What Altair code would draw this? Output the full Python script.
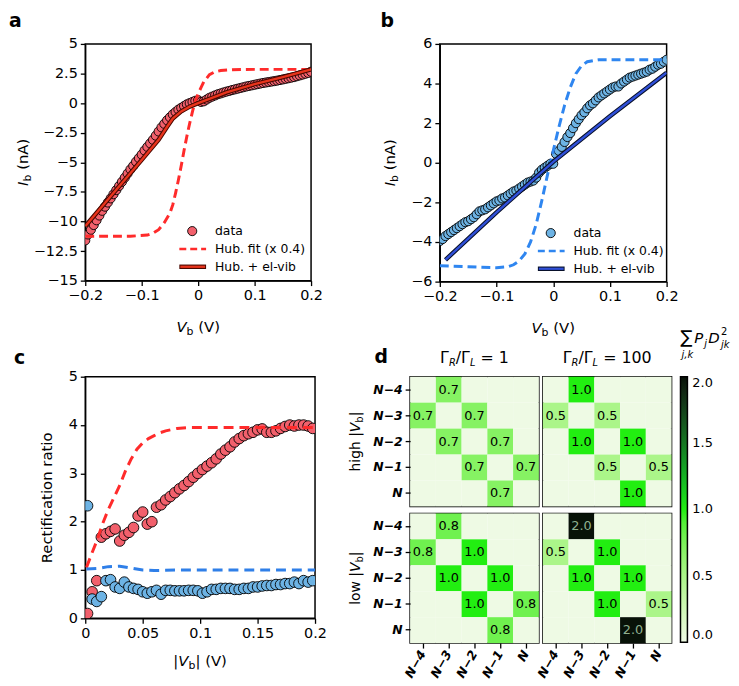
import altair as alt
import pandas as pd

FONT = "DejaVu Sans"
SP = "\u00a0"

# ---------------- data ----------------
V_SWEEP = [-0.200, -0.195, -0.190, -0.185, -0.180, -0.175, -0.170, -0.165, -0.160, -0.155,
           -0.150, -0.145, -0.140, -0.135, -0.130, -0.125, -0.120, -0.115, -0.110, -0.105,
           -0.100, -0.095, -0.090, -0.085, -0.080, -0.075, -0.070, -0.065, -0.060, -0.055,
           -0.050, -0.045, -0.040, -0.035, -0.030, -0.025, -0.020, -0.015, -0.010, -0.005,
           0.000, 0.005, 0.010, 0.015, 0.020, 0.025, 0.030, 0.035, 0.040, 0.045,
           0.050, 0.055, 0.060, 0.065, 0.070, 0.075, 0.080, 0.085, 0.090, 0.095,
           0.100, 0.105, 0.110, 0.115, 0.120, 0.125, 0.130, 0.135, 0.140, 0.145,
           0.150, 0.155, 0.160, 0.165, 0.170, 0.175, 0.180, 0.185, 0.190, 0.195, 0.200]

A_DATA = [-11.6, -11.1, -10.7, -10.3, -9.9, -9.5, -9.1, -8.75, -8.4, -8.05,
          -7.7, -7.35, -7.0, -6.65, -6.3, -5.95, -5.6, -5.3, -4.95, -4.65,
          -4.35, -4.0, -3.7, -3.4, -3.1, -2.75, -2.4, -2.05, -1.75, -1.45,
          -1.2, -0.95, -0.75, -0.55, -0.4, -0.25, -0.1, 0.0, 0.1, 0.2,
          0.25, 0.1, 0.15, 0.3, 0.45, 0.55, 0.65, 0.75, 0.82, 0.9,
          0.97, 1.03, 1.1, 1.16, 1.22, 1.28, 1.34, 1.4, 1.45, 1.5,
          1.55, 1.6, 1.65, 1.7, 1.74, 1.78, 1.82, 1.86, 1.9, 1.95,
          2.0, 2.05, 2.1, 2.15, 2.2, 2.27, 2.34, 2.41, 2.48, 2.55, 2.65]
A_FIT_X = [-0.2, -0.12, -0.09, -0.08, -0.07, -0.06, -0.05, -0.045, -0.04, -0.035, -0.03, -0.025,
           -0.02, -0.015, -0.01, -0.005, 0.0, 0.005, 0.01, 0.02, 0.03, 0.04, 0.06, 0.1, 0.2]
A_FIT_Y = [-11.25, -11.25, -11.15, -11.0, -10.7, -10.1, -9.3, -8.6, -7.6, -6.5, -5.3, -4.0,
           -2.8, -1.7, -0.7, 0.2, 0.8, 1.3, 1.8, 2.4, 2.65, 2.75, 2.82, 2.85, 2.85]
A_EV_X = [-0.2, -0.15, -0.1, -0.07, -0.055, -0.045, -0.03, -0.015, 0.0, 0.02, 0.05, 0.1, 0.15, 0.2]
A_EV_Y = [-10.4, -7.6, -4.8, -3.1, -2.0, -1.3, -0.7, -0.3, 0.0, 0.35, 0.9, 1.6, 2.2, 2.85]

B_DATA = [-3.95, -3.85, -3.7, -3.6, -3.5, -3.4, -3.3, -3.2, -3.1, -3.0,
          -2.95, -2.85, -2.75, -2.6, -2.45, -2.4, -2.35, -2.25, -2.15, -2.05,
          -1.95, -1.9, -1.8, -1.75, -1.65, -1.55, -1.45, -1.4, -1.3, -1.2,
          -1.1, -1.0, -0.95, -0.9, -0.75, -0.5, -0.35, -0.25, -0.15, -0.05,
          -0.05, 0.45, 0.6, 0.8, 1.05, 1.3, 1.5, 1.75, 2.0, 2.2,
          2.4, 2.55, 2.75, 2.9, 3.0, 3.15, 3.3, 3.4, 3.5, 3.6,
          3.7, 3.8, 3.85, 3.85, 4.0, 4.1, 4.2, 4.3, 4.35, 4.4,
          4.45, 4.5, 4.55, 4.6, 4.7, 4.75, 4.85, 4.95, 5.0, 5.1, 5.2]
B_FIT_X = [-0.2, -0.15, -0.1, -0.08, -0.07, -0.06, -0.05, -0.04, -0.03, -0.02, -0.01, 0.0,
           0.01, 0.02, 0.03, 0.04, 0.05, 0.06, 0.08, 0.1, 0.2]
B_FIT_Y = [-5.2, -5.25, -5.3, -5.25, -5.15, -4.95, -4.6, -4.0, -3.1, -1.9, -0.6, 0.6,
           1.8, 2.9, 3.8, 4.5, 4.9, 5.1, 5.2, 5.2, 5.2]
B_EV_X = [-0.19, -0.1, 0.0, 0.1, 0.2]
B_EV_Y = [-4.9, -2.5, 0.05, 2.35, 4.55]

C_X = [0.002, 0.006, 0.010, 0.014, 0.018, 0.022, 0.026, 0.030, 0.034, 0.038,
       0.042, 0.046, 0.050, 0.054, 0.058, 0.062, 0.066, 0.070, 0.074, 0.078,
       0.082, 0.086, 0.090, 0.094, 0.098, 0.102, 0.106, 0.110, 0.114, 0.118,
       0.122, 0.126, 0.130, 0.134, 0.138, 0.142, 0.146, 0.150, 0.154, 0.158,
       0.162, 0.166, 0.170, 0.174, 0.178, 0.182, 0.186, 0.190, 0.194, 0.198]
C_RED = [0.1, 0.55, 0.78, 1.68, 1.75, 1.8, 1.85, 1.6, 1.72, 1.78,
         1.88, 2.12, 2.2, 1.95, 2.0, 2.3, 2.35, 2.45, 2.52, 2.6,
         2.68, 2.75, 2.83, 2.92, 3.0, 3.08, 3.15, 3.22, 3.3, 3.4,
         3.48, 3.55, 3.65, 3.72, 3.78, 3.82, 3.85, 3.9, 3.92, 3.85,
         3.85, 3.88, 3.93, 3.97, 4.0, 3.98, 4.0, 4.0, 3.98, 3.93]
C_BLUE = [2.33, 0.4, 0.35, 0.45, 0.78, 0.8, 0.65, 0.62, 0.75, 0.65,
          0.62, 0.6, 0.55, 0.52, 0.55, 0.58, 0.5, 0.58, 0.58, 0.57,
          0.57, 0.57, 0.58, 0.58, 0.57, 0.52, 0.55, 0.6, 0.6, 0.62,
          0.62, 0.62, 0.6, 0.6, 0.62, 0.62, 0.65, 0.65, 0.67, 0.68,
          0.68, 0.7, 0.7, 0.72, 0.72, 0.75, 0.72, 0.78, 0.75, 0.78]
C_RFIT_X = [0.001, 0.005, 0.01, 0.015, 0.02, 0.025, 0.03, 0.035, 0.04, 0.045, 0.05, 0.055,
            0.06, 0.065, 0.07, 0.08, 0.09, 0.2]
C_RFIT_Y = [1.05, 1.3, 1.6, 1.95, 2.25, 2.5, 2.75, 3.05, 3.3, 3.5, 3.63, 3.72,
            3.78, 3.84, 3.88, 3.93, 3.95, 3.95]
C_BFIT_X = [0.001, 0.01, 0.02, 0.03, 0.04, 0.05, 0.06, 0.08, 0.2]
C_BFIT_Y = [1.02, 1.03, 1.07, 1.08, 1.04, 1.0, 0.99, 1.0, 1.0]

STATES = ["N−4", "N−3", "N−2", "N−1", "N"]
HIGH_G1 = [[0, 0.7, 0, 0, 0], [0.7, 0, 0.7, 0, 0], [0, 0.7, 0, 0.7, 0], [0, 0, 0.7, 0, 0.7], [0, 0, 0, 0.7, 0]]
HIGH_G100 = [[0, 1.0, 0, 0, 0], [0.5, 0, 0.5, 0, 0], [0, 1.0, 0, 1.0, 0], [0, 0, 0.5, 0, 0.5], [0, 0, 0, 1.0, 0]]
LOW_G1 = [[0, 0.8, 0, 0, 0], [0.8, 0, 1.0, 0, 0], [0, 1.0, 0, 1.0, 0], [0, 0, 1.0, 0, 0.8], [0, 0, 0, 0.8, 0]]
LOW_G100 = [[0, 2.0, 0, 0, 0], [0.5, 0, 1.0, 0, 0], [0, 1.0, 0, 1.0, 0], [0, 0, 1.0, 0, 0.5], [0, 0, 0, 2.0, 0]]

XT_AB = [-0.2, -0.1, 0, 0.1, 0.2]
YT_A = [5, 2.5, 0, -2.5, -5, -7.5, -10, -12.5, -15]
YT_B = [6, 4, 2, 0, -2, -4, -6]
XT_C = [0, 0.05, 0.1, 0.15, 0.2]
YT_C = [0, 1, 2, 3, 4, 5]
CB_TICKS = [0, 0.5, 1.0, 1.5, 2.0]

RED_PT, RED_DASH, RED_LINE, RED_EDGE = "#f2606c", "#ff2b2b", "#e8341c", "#4a0800"
BLUE_PT, BLUE_DASH, BLUE_LINE, BLUE_EDGE = "#6db3e4", "#2f86f0", "#3050d8", "#08102a"
HEAT_RANGE = ["#eefae4", "#22ee11", "#081208"]

# ---------------- helpers ----------------
CW = {' ': .318, SP: .318, '(': .390, ')': .390, '|': .337, '.': .318, ',': .318, '/': .337,
      '=': .838, '+': .838, '−': .838, '-': .361, 'a': .613, 'b': .635, 'c': .550, 'd': .635,
      'e': .615, 'f': .352, 'g': .635, 'h': .634, 'i': .278, 'j': .278, 'k': .579, 'l': .278,
      'n': .634, 'o': .612, 'r': .411, 't': .392, 'w': .818, 'x': .592, 'A': .684, 'D': .770,
      'I': .295, 'L': .557, 'N': .748, 'P': .603, 'R': .695, 'V': .684, 'Γ': .557, '∑': .70}
for d in "0123456789":
    CW[d] = .636

ANNO = alt.Chart(pd.DataFrame({"k": [0]}))


def tw(s, size):
    return sum(CW.get(ch, 0.62) for ch in s) * size


def label(t, x, y, size=15, style="normal", weight="normal", align="left", baseline="alphabetic",
          angle=0, color="black"):
    return ANNO.mark_text(text=t, align=align, baseline=baseline, fontSize=size, fontStyle=style,
                          fontWeight=weight, font=FONT, color=color, angle=angle).encode(
        x=alt.value(x), y=alt.value(y))


def rich(pieces, cx, cy, angle=0):
    """pieces: (text, size, style, baseline shift); leading spaces become explicit gaps."""
    total = sum(tw(p[0], p[1]) for p in pieces)
    pos = -total / 2
    out = []
    for t, s, st, sh in pieces:
        while t.startswith(SP):
            pos += tw(SP, s)
            t = t[1:]
        if angle == 0:
            out.append(label(t, cx + pos, cy + sh, s, st))
        else:
            out.append(label(t, cx + sh, cy - pos, s, st, angle=angle))
        pos += tw(t, s)
    return out


MINUS_EXPR = "replace(datum.label, '-', '\u2212')"


def qaxis(values, fmt, size=14.5):
    return alt.Axis(values=values, format=fmt, labelExpr=MINUS_EXPR, title=None, labelFlush=False,
                    labelOverlap=False, tickSize=5, labelFontSize=size, labelColor="black",
                    domainColor="black", domainWidth=1.3, tickColor="black", tickWidth=1.3,
                    grid=False, labelPadding=3)


def legend_block(x0, y0, pt, dash, line, edge):
    xs, xe, xt = x0, x0 + 27, x0 + 36
    return [
        ANNO.mark_point(shape="circle", filled=True, size=85, fill=pt, stroke="black",
                        strokeWidth=0.9, opacity=1).encode(x=alt.value(x0 + 13), y=alt.value(y0)),
        ANNO.mark_rule(color=dash, strokeWidth=2.5, strokeDash=[7, 4]).encode(
            x=alt.value(xs), x2=alt.value(xe), y=alt.value(y0 + 18)),
        ANNO.mark_rule(color=edge, strokeWidth=4.5).encode(
            x=alt.value(xs), x2=alt.value(xe), y=alt.value(y0 + 36)),
        ANNO.mark_rule(color=line, strokeWidth=2.3).encode(
            x=alt.value(xs + 1), x2=alt.value(xe - 1), y=alt.value(y0 + 36)),
        label("data", xt, y0, 12.5, baseline="middle"),
        label("Hub. fit (x 0.4)", xt, y0 + 18, 12.5, baseline="middle"),
        label("Hub. + el-vib", xt, y0 + 36, 12.5, baseline="middle"),
    ]


def iv_panel(data_y, fit_x, fit_y, ev_x, ev_y, ydom, yticks, yfmt, w, h, pt, dash, line, edge,
             letter, lx, ytitle_x, leg_x, leg_y):
    xe = alt.X("x:Q", scale=alt.Scale(domain=[-0.2, 0.2], nice=False), axis=qaxis(XT_AB, ".1~f"))
    ye = alt.Y("y:Q", scale=alt.Scale(domain=ydom, nice=False, zero=False), axis=qaxis(yticks, yfmt))
    pts = alt.Chart(pd.DataFrame({"x": V_SWEEP, "y": data_y})).mark_point(
        shape="circle", filled=True, size=85, fill=pt, stroke="black", strokeWidth=0.9,
        opacity=1, clip=True).encode(x=xe, y=ye)
    fdf = pd.DataFrame({"x": fit_x, "y": fit_y})
    edf = pd.DataFrame({"x": ev_x, "y": ev_y})
    fit = alt.Chart(fdf).mark_line(color=dash, strokeWidth=3, strokeDash=[9, 5], clip=True).encode(x=xe, y=ye)
    ev0 = alt.Chart(edf).mark_line(color=edge, strokeWidth=4.5, clip=True).encode(x=xe, y=ye)
    ev1 = alt.Chart(edf).mark_line(color=line, strokeWidth=2.4, clip=True).encode(x=xe, y=ye)
    extra = [label(letter, lx, -32, 19, weight="bold", baseline="top")]
    extra += rich([("V", 15, "italic", 0), ("b", 11, "normal", 3), (SP + "(V)", 15, "normal", 0)], w / 2, h + 52)
    extra += rich([("I", 15, "italic", 0), ("b", 11, "normal", 3), (SP + "(nA)", 15, "normal", 0)],
                  ytitle_x, h / 2, angle=270)
    extra += legend_block(leg_x, leg_y, pt, dash, line, edge)
    return alt.layer(pts, fit, ev0, ev1, *extra).properties(width=w, height=h)


# ---------------- panels a, b ----------------
pa = iv_panel(A_DATA, A_FIT_X, A_FIT_Y, A_EV_X, A_EV_Y, [-15, 5], YT_A, ".1~f", 228, 239,
              RED_PT, RED_DASH, RED_LINE, RED_EDGE, "a", -77, -58, 95, 189)
pb = iv_panel(B_DATA, B_FIT_X, B_FIT_Y, B_EV_X, B_EV_Y, [-6, 6], YT_B, ".0f", 229, 240,
              BLUE_PT, BLUE_DASH, BLUE_LINE, BLUE_EDGE, "b", -60, -45, 99, 191)

# invisible spacer shifting panel b right of panel d's column start
spacer = ANNO.mark_point(opacity=0).encode(x=alt.value(0), y=alt.value(0)).properties(
    width=30, height=10, view=alt.ViewBackground(strokeOpacity=0))
pb_wrap = alt.hconcat(spacer, pb, spacing=0, bounds="flush")

# ---------------- panel c ----------------
xc = alt.X("x:Q", scale=alt.Scale(domain=[0, 0.2], nice=False), axis=qaxis(XT_C, ".2~f"))
yc = alt.Y("y:Q", scale=alt.Scale(domain=[0, 5], nice=False), axis=qaxis(YT_C, ".0f"))
cdf = pd.DataFrame({"x": C_X, "r": C_RED, "b": C_BLUE})
c_red = alt.Chart(cdf).mark_point(shape="circle", filled=True, size=115, fill=RED_PT, stroke="black",
                                  strokeWidth=0.9, opacity=1, clip=True).encode(
    x=xc, y=alt.Y("r:Q", scale=alt.Scale(domain=[0, 5], nice=False), axis=qaxis(YT_C, ".0f")))
c_blue = alt.Chart(cdf).mark_point(shape="circle", filled=True, size=115, fill=BLUE_PT, stroke="black",
                                   strokeWidth=0.9, opacity=1, clip=True).encode(x=xc, y=alt.Y("b:Q"))
c_rfit = alt.Chart(pd.DataFrame({"x": C_RFIT_X, "y": C_RFIT_Y})).mark_line(
    color=RED_DASH, strokeWidth=3, strokeDash=[10, 6], clip=True).encode(x=xc, y=yc)
c_bfit = alt.Chart(pd.DataFrame({"x": C_BFIT_X, "y": C_BFIT_Y})).mark_line(
    color="#2f7fe8", strokeWidth=3, strokeDash=[10, 6], clip=True).encode(x=xc, y=yc)
c_extra = [label("c", -72, -28, 19, weight="bold", baseline="top")]
c_extra += rich([("|", 15, "normal", 0), ("V", 15, "italic", 0), ("b", 11, "normal", 3),
                 ("|", 15, "normal", 0), (SP + "(V)", 15, "normal", 0)], 116, 244 + 48)
c_extra += rich([("Rectification ratio", 15, "normal", 0)], -34, 122, angle=270)
pc = alt.layer(c_red, c_blue, c_rfit, c_bfit, *c_extra).properties(width=232, height=244)


# ---------------- panel d ----------------
def heat_df(mat):
    rows = []
    for i, r in enumerate(STATES):
        for j, c in enumerate(STATES):
            rows.append({"row": r, "col": c, "v": mat[i][j]})
    return pd.DataFrame(rows)


CB_LEGEND = alt.Legend(orient="none", legendX=601, legendY=336, direction="vertical",
                       gradientLength=268, gradientThickness=7, title=None, values=CB_TICKS,
                       format=".1f", labelFontSize=13, labelColor="black",
                       gradientStrokeColor="black", gradientStrokeWidth=1.5, labelOffset=5)


def heat(mat, show_x, show_y, extra):
    base = alt.Chart(heat_df(mat))
    if show_x:
        xax = alt.Axis(title=None, labelAngle=300, labelAlign="right", labelBaseline="middle",
                       labelFontSize=12.5, labelFontStyle="italic", labelFontWeight="bold",
                       labelColor="black", tickSize=5, tickColor="black", tickWidth=1.3,
                       domain=False, labelPadding=3)
    else:
        xax = None
    if show_y:
        yax = alt.Axis(title=None, labelFontSize=12.5, labelFontStyle="italic", labelFontWeight="bold",
                       labelColor="black", tickSize=5, tickColor="black", tickWidth=1.3,
                       domain=False, labelPadding=3)
    else:
        yax = None
    xe = alt.X("col:O", sort=STATES, scale=alt.Scale(domain=STATES, paddingInner=0, paddingOuter=0), axis=xax)
    ye = alt.Y("row:O", sort=STATES, scale=alt.Scale(domain=STATES, paddingInner=0, paddingOuter=0), axis=yax)
    rect = base.mark_rect().encode(
        x=xe, y=ye,
        color=alt.Color("v:Q", scale=alt.Scale(domain=[0, 1, 2], range=HEAT_RANGE), legend=CB_LEGEND))
    txt = base.transform_filter("datum.v > 0").mark_text(fontSize=13, font=FONT).encode(
        x=xe, y=ye, text=alt.Text("v:Q", format=".1f"),
        color=alt.condition("datum.v > 1.5", alt.value("#8fb08f"), alt.value("black")))
    return alt.layer(rect, txt, *extra).properties(width=130, height=131)


def gamma_title(val):
    return rich([("Γ", 16, "normal", 0), ("R", 10, "italic", 3), ("/Γ", 16, "normal", 0),
                 ("L", 10, "italic", 3), (SP + "=", 16, "normal", 0), (SP + val, 16, "normal", 0)], 65, -14)


def row_title(word, cy):
    return rich([(word, 14, "normal", 0), (SP + "|", 14, "normal", 0), ("V", 14, "italic", 0),
                 ("b", 10, "normal", 3), ("|", 14, "normal", 0)], -51, cy, angle=270)


h1_extra = [label("d", -36, -29, 19, weight="bold", baseline="top")] + gamma_title("1") + row_title("high", 65.5)
h2_extra = gamma_title("100") + [
    label("∑", 139, -34, 18),
    label("j,k", 146, -19, 10, style="italic", align="center"),
    label("P", 153, -34, 15, style="italic"),
    label("j", 163, -30, 10, style="italic"),
    label("D", 167, -34, 15, style="italic"),
    label("2", 180, -42, 10),
    label("jk", 180, -29, 10, style="italic"),
]
h3_extra = row_title("low", 65.5)

h1 = heat(HIGH_G1, False, True, h1_extra)
h2 = heat(HIGH_G100, False, False, h2_extra)
h3 = heat(LOW_G1, True, True, h3_extra)
h4 = heat(LOW_G100, True, False, [])

dblock = alt.concat(h1, h2, h3, h4, columns=2, spacing={"row": 7, "column": 4}, bounds="flush")

chart = alt.concat(pa, pb_wrap, pc, dblock, columns=2, spacing={"row": 97, "column": 96},
                   bounds="flush", align="each").properties(padding=0).configure(
    font=FONT).configure_view(stroke="black", strokeWidth=1.5)

chart.save("out.html", embed_options={"renderer": "svg", "actions": False})
